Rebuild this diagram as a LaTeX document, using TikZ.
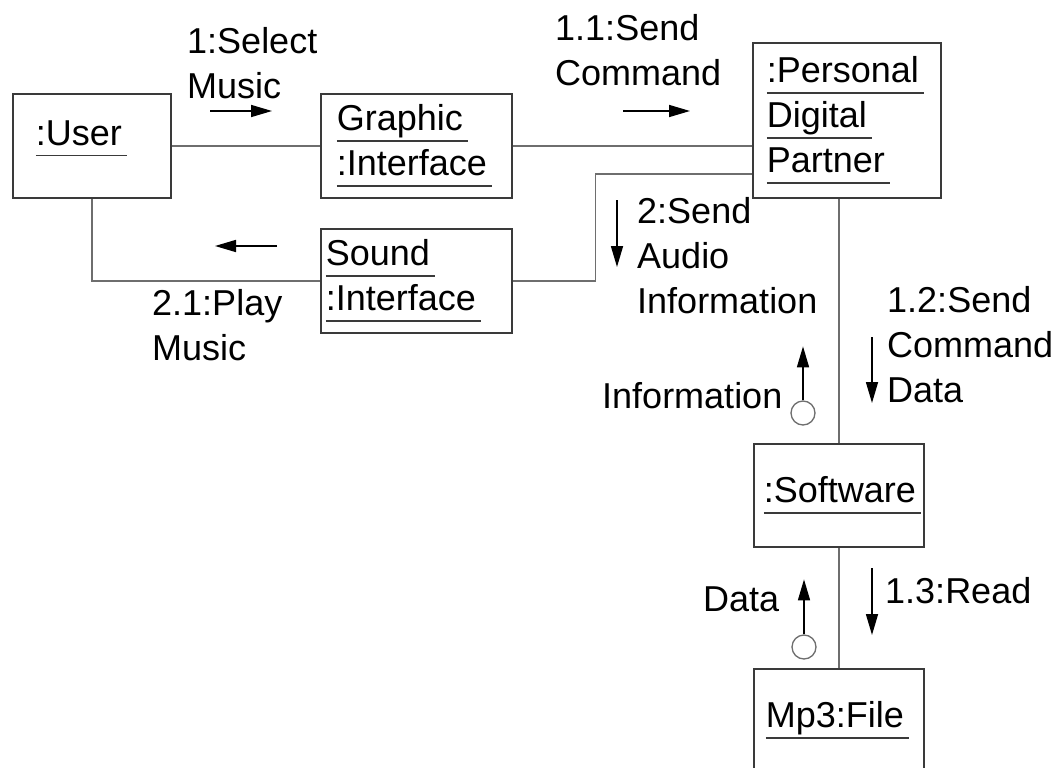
\documentclass[tikz,border=0pt]{standalone}
\usepackage{fontspec}
\setmainfont{Liberation Sans}
\usepackage{xcolor}
\usepackage{tikz}
\usetikzlibrary{arrows.meta, positioning}

\definecolor{boxline}{HTML}{3A3A3A}
\definecolor{linkgray}{HTML}{6E6E6E}

% object names are underlined a fixed distance below the baseline
\newsavebox{\unamebox}
\newcommand{\uname}[1]{\leavevmode\sbox{\unamebox}{#1}\rlap{\textcolor{boxline}{\rule[-11pt]{\dimexpr\wd\unamebox+5pt\relax}{1.5pt}}}\usebox{\unamebox}}

\begin{document}
\begin{tikzpicture}[
        x=1pt, y=-1pt,
        >={Triangle[length=21pt,width=12pt]},
        font=\fontsize{36}{45}\selectfont,
        obj/.style={
            draw=boxline,
            line width=1.8pt,
            anchor=north west,
            align=left,
            inner ysep=0pt,
            minimum height=104pt
        },
        link/.style={draw=linkgray, line width=1.3pt},
        msg/.style={->, line width=1.6pt},
        lbl/.style={anchor=north west, inner sep=0pt, align=left},
        token/.style={circle, draw=linkgray, line width=1.3pt, minimum size=24pt, inner sep=0pt}
    ]

    \clip (0,0) rectangle (1058,768);
    \fill[white] (0,0) rectangle (1058,768);

    % Objects
    \node[obj, text width=112pt, inner xsep=23pt, text depth=26pt] (user) at (12,93) {\uname{:User}};
    \node[obj, text width=159pt, inner xsep=16pt] (graphic) at (320,93) {\uname{Graphic}\\\uname{:Interface}};
    \node[obj, text width=181pt, inner xsep=5pt] (sound) at (320,228) {\uname{Sound}\\\uname{:Interface}};
    \node[obj, text width=160pt, inner xsep=14pt, minimum height=155pt] (pdp) at (752,42) {\uname{:Personal}\\\uname{Digital}\\\uname{Partner}};
    \node[obj, text width=150pt, inner xsep=10pt, minimum height=103pt] (software) at (753,443) {\uname{:Software}};
    \node[obj, text width=146pt, inner xsep=12pt, minimum height=103pt] (mp3) at (753,668) {\uname{Mp3:File}};

    % Links
    \draw[link] (user.east) -- (user.east -| graphic.west);
    \draw[link] (graphic.east) -- (graphic.east -| pdp.west);
    \draw[link] (user.south) |- (sound.west);
    \draw[link] (sound.east) -- ++(83,0) |- ([yshift=-53.5pt]pdp.west);
    \draw[link] (pdp.south -| software.north) -- (software.north);
    \draw[link] (software.south) -- (mp3.north);

    % Messages
    \node[lbl] (selmsg) at (187,27) {1:Select\\Music};
    \node[lbl] (cmdmsg) at (555,14) {1.1:Send\\Command};
    \node[lbl] (audiomsg) at (637,197) {2:Send\\Audio\\Information};
    \node[lbl] (playmsg) at (152,289) {2.1:Play\\Music};
    \node[lbl] (cmddatamsg) at (887,286) {1.2:Send\\Command\\Data};
    \node[lbl] (readmsg) at (885,577) {1.3:Read};

    \coordinate (selarr) at (210,111);
    \coordinate (cmdarr) at (623,111);
    \coordinate (playarr) at (277,246);
    \coordinate (audioarr) at (617,200);
    \coordinate (cmddataarr) at (872,337);
    \coordinate (readarr) at (872,568);
    \draw[msg] (selarr) -- ++(62,0);
    \draw[msg] (cmdarr) -- ++(67,0);
    \draw[msg] (playarr) -- ++(-62,0);
    \draw[msg] (audioarr) -- ++(0,67);
    \draw[msg] (cmddataarr) -- ++(0,66);
    \draw[msg] (readarr) -- ++(0,67);

    % Returned data flows
    \node[lbl] (infolbl) at (602,382) {Information};
    \node[lbl] (datalbl) at (703,587) {Data};
    \node[token] (infotok) at (803,413) {};
    \node[token] (datatok) at (804,647) {};
    \draw[msg] (infotok.north) -- ++(0,-54);
    \draw[msg] (datatok.north) -- ++(0,-55);

\end{tikzpicture}
\end{document}
